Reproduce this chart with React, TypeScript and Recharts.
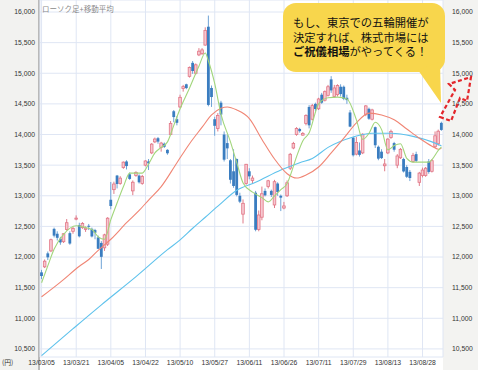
import React from 'react';
import { ComposedChart, Bar, Line, XAxis, YAxis, CartesianGrid } from 'recharts';

// trading days 2013/03/05 - 2013/09/05
const dates = [
  '13/03/05', '13/03/06', '13/03/07', '13/03/08', '13/03/11', '13/03/12', '13/03/13', '13/03/14', '13/03/15', '13/03/18',
  '13/03/19', '13/03/21', '13/03/22', '13/03/25', '13/03/26', '13/03/27', '13/03/28', '13/03/29', '13/04/01', '13/04/02',
  '13/04/03', '13/04/04', '13/04/05', '13/04/08', '13/04/09', '13/04/10', '13/04/11', '13/04/12', '13/04/15', '13/04/16',
  '13/04/17', '13/04/18', '13/04/19', '13/04/22', '13/04/23', '13/04/24', '13/04/25', '13/04/26', '13/04/30', '13/05/01',
  '13/05/02', '13/05/07', '13/05/08', '13/05/09', '13/05/10', '13/05/13', '13/05/14', '13/05/15', '13/05/16', '13/05/17',
  '13/05/20', '13/05/21', '13/05/22', '13/05/23', '13/05/24', '13/05/27', '13/05/28', '13/05/29', '13/05/30', '13/05/31',
  '13/06/03', '13/06/04', '13/06/05', '13/06/06', '13/06/07', '13/06/10', '13/06/11', '13/06/12', '13/06/13', '13/06/14',
  '13/06/17', '13/06/18', '13/06/19', '13/06/20', '13/06/21', '13/06/24', '13/06/25', '13/06/26', '13/06/27', '13/06/28',
  '13/07/01', '13/07/02', '13/07/03', '13/07/04', '13/07/05', '13/07/08', '13/07/09', '13/07/10', '13/07/11', '13/07/12',
  '13/07/16', '13/07/17', '13/07/18', '13/07/19', '13/07/22', '13/07/23', '13/07/24', '13/07/25', '13/07/26', '13/07/29',
  '13/07/30', '13/07/31', '13/08/01', '13/08/02', '13/08/05', '13/08/06', '13/08/07', '13/08/08', '13/08/09', '13/08/12',
  '13/08/13', '13/08/14', '13/08/15', '13/08/16', '13/08/19', '13/08/20', '13/08/21', '13/08/22', '13/08/23', '13/08/26',
  '13/08/27', '13/08/28', '13/08/29', '13/08/30', '13/09/02', '13/09/03', '13/09/04', '13/09/05',
];

const opens = [
  11750, 11840, 12060, 12100, 12460, 12380, 12300, 12250, 12450, 12390,
  12420, 12620, 12520, 12480, 12450, 12510, 12460, 12440, 12320, 12230,
  12150, 12210, 12935, 13100, 13330, 13200, 13460, 13560, 13350, 13080,
  13330, 13330, 13200, 13500, 13560, 13700, 13880, 13940, 13790, 13850,
  13750, 14000, 14380, 14250, 14450, 14750, 14820, 14950, 15170, 15000,
  15300, 15320, 15460, 15760, 14760, 14250, 14100, 14520, 14000, 13860,
  13580, 13400, 13600, 13000, 12700, 13200, 13400, 13250, 13050, 12450,
  12650, 13080, 13150, 13080, 12850, 13200, 13000, 12800, 13000, 13450,
  13780, 14000, 14090, 13990, 14180, 14450, 14250, 14500, 14420, 14650,
  14560, 14640, 14900, 14620, 14650, 14780, 14780, 14600, 14360, 13950,
  13680, 13740, 13700, 14330, 14420, 14250, 14120, 13800, 13720, 13490,
  13700, 13950, 13860, 13500, 13620, 13600, 13470, 13390, 13560, 13680,
  13220, 13330, 13330, 13560, 13400, 13800, 13850, 14190,
];

const highs = [
  11790, 11960, 12090, 12300, 12480, 12420, 12330, 12390, 12620, 12420,
  12490, 12680, 12560, 12570, 12500, 12540, 12480, 12460, 12350, 12260,
  12380, 12650, 13225, 13230, 13340, 13320, 13560, 13580, 13380, 13250,
  13400, 13350, 13340, 13580, 13600, 13860, 13950, 13960, 13880, 13870,
  13760, 14220, 14400, 14300, 14650, 14810, 14830, 15110, 15200, 15160,
  15410, 15410, 15750, 15942, 14800, 14290, 14350, 14550, 14050, 14000,
  13600, 13760, 13610, 13050, 12940, 13520, 13450, 13330, 13080, 12760,
  13150, 13120, 13260, 13100, 13260, 13220, 13020, 12900, 13250, 13700,
  13880, 14120, 14110, 14040, 14330, 14480, 14500, 14520, 14600, 14680,
  14720, 14810, 14953, 14810, 14820, 14820, 14800, 14650, 14400, 13960,
  13960, 13870, 14020, 14480, 14440, 14420, 14130, 13820, 13760, 13600,
  13940, 14080, 13880, 13680, 13780, 13620, 13500, 13420, 13700, 13720,
  13390, 13460, 13470, 13600, 13600, 14050, 14080, 14210,
];

const lows = [
  11640, 11820, 11950, 12080, 12320, 12270, 12200, 12230, 12430, 12200,
  12380, 12600, 12320, 12460, 12410, 12440, 12320, 12290, 12130, 11805,
  12100, 12180, 12780, 13030, 13120, 13180, 13440, 13430, 13260, 13010,
  13310, 13200, 13180, 13480, 13420, 13680, 13860, 13850, 13720, 13780,
  13670, 13990, 14200, 14150, 14430, 14700, 14740, 14930, 14990, 14980,
  15280, 15300, 15450, 14460, 14450, 13980, 14050, 14150, 13560, 13600,
  13200, 13130, 12990, 12880, 12548, 13180, 13270, 13200, 12420, 12420,
  12600, 12990, 13120, 12980, 12800, 13000, 12750, 12780, 12980, 13420,
  13760, 13980, 14030, 13980, 14150, 14100, 14230, 14380, 14400, 14500,
  14540, 14620, 14680, 14600, 14620, 14620, 14560, 14500, 14120, 13640,
  13660, 13640, 13680, 14300, 14240, 14230, 13780, 13580, 13600, 13400,
  13680, 13930, 13720, 13450, 13600, 13380, 13290, 13240, 13540, 13550,
  13160, 13300, 13310, 13360, 13380, 13780, 13820, 14060,
];

const closes = [
  11690, 11932, 11995, 12283, 12349, 12314, 12239, 12381, 12560, 12220,
  12468, 12635, 12338, 12546, 12471, 12494, 12336, 12397, 12135, 12003,
  12362, 12634, 12833, 13192, 13192, 13288, 13549, 13485, 13275, 13221,
  13382, 13220, 13316, 13568, 13529, 13843, 13926, 13884, 13860, 13799,
  13694, 14180, 14285, 14191, 14607, 14782, 14758, 15096, 15037, 15138,
  15360, 15381, 15700, 14483, 14612, 14142, 14311, 14326, 13589, 13774,
  13261, 13160, 13014, 12904, 12877, 13514, 13317, 13289, 12445, 12686,
  13033, 13007, 13245, 13014, 13230, 13062, 12969, 12834, 13213, 13677,
  13852, 14098, 14055, 14018, 14309, 14150, 14472, 14416, 14580, 14520,
  14700, 14780, 14720, 14760, 14800, 14660, 14580, 14562, 14129, 13661,
  13869, 13668, 14005, 14467, 14258, 14401, 13825, 13606, 13615, 13519,
  13925, 14050, 13752, 13650, 13758, 13397, 13310, 13290, 13660, 13570,
  13370, 13420, 13450, 13389, 13573, 13979, 14054, 14075,
];

// moving averages: [day index, value]
const maShort = [
  [0, 11580], [2, 11860], [4, 12130], [7, 12370], [11, 12510], [14, 12480], [16, 12450], [18, 12330],
  [20, 12290], [22, 12610], [24, 12885], [26, 13150], [28, 13370], [30, 13370], [32, 13370], [34, 13520],
  [36, 13700], [38, 13790], [40, 13880], [42, 14150], [44, 14420], [47, 14760], [50, 15120], [52, 15330],
  [53, 15200], [55, 14830], [57, 14330], [60, 13880], [62, 13540], [64, 13210], [67, 13060], [70, 12970],
  [72, 12900], [74, 13000], [76, 13100], [78, 13200], [79, 13330], [81, 13640], [83, 13900], [85, 14030],
  [88, 14500], [91, 14600], [94, 14610], [97, 14580], [100, 14240], [102, 13920], [104, 14020], [106, 14200],
  [108, 14080], [110, 13750], [112, 13820], [114, 13850], [116, 13610], [118, 13550], [120, 13550], [123, 13550],
  [124, 13590], [126, 13740], [127, 13800],
];

const maMid = [
  [0, 11350], [6, 11590], [12, 11850], [15, 11960], [18, 12110], [22, 12290], [27, 12560], [31, 12760],
  [34, 12930], [38, 13150], [43, 13540], [47, 13850], [51, 14120], [54, 14320], [57, 14430], [59, 14450],
  [62, 14400], [66, 14260], [70, 13920], [74, 13600], [78, 13360], [81, 13290], [84, 13340], [88, 13470],
  [92, 13700], [96, 13940], [100, 14190], [104, 14350], [108, 14320], [112, 14240], [116, 14090], [120, 13940],
  [124, 13810], [126, 13760], [127, 13775],
];

const maLong = [
  [0, 10390], [10, 10830], [19, 11220], [30, 11680], [40, 12120], [44, 12280], [48, 12470], [52, 12650],
  [56, 12830], [62, 13090], [68, 13220], [76, 13420], [82, 13540], [86, 13610], [91, 13790], [99, 13960],
  [105, 14020], [111, 14020], [118, 13970], [124, 13880], [127, 13815],
];

const xTicks = ['13/03/05', '13/03/21', '13/04/05', '13/04/22', '13/05/10', '13/05/27', '13/06/11', '13/06/26', '13/07/11', '13/07/29', '13/08/13', '13/08/28'];
const yTicks = [10500, 11000, 11500, 12000, 12500, 13000, 13500, 14000, 14500, 15000, 15500, 16000];

const pick = (list: number[][], i: number) => {
  const hit = list.find((p) => p[0] === i);
  return hit ? hit[1] : null;
};

const rows = dates.map((date, i) => ({
  date,
  range: [lows[i], highs[i]],
  open: opens[i],
  close: closes[i],
  maShort: pick(maShort, i),
  maMid: pick(maMid, i),
  maLong: pick(maLong, i),
}));

const numFont = '"Liberation Sans", Arial, sans-serif';
const jpFont = '"Noto Sans CJK JP", sans-serif';

function Candle(props: any) {
  const { x, y, width, height, payload } = props;
  if (!payload) return null;
  const [lo, hi] = payload.range;
  const top0 = Math.min(y, y + height);
  const h0 = Math.abs(height);
  const k = h0 / (hi - lo);
  const cx = x + width / 2;
  const yO = top0 + (hi - payload.open) * k;
  const yC = top0 + (hi - payload.close) * k;
  const up = payload.close >= payload.open;
  const bTop = Math.min(yO, yC);
  const bH = Math.max(Math.abs(yC - yO), 1);
  return (
    <g>
      <line x1={cx} x2={cx} y1={top0} y2={top0 + h0} stroke={up ? '#e07a88' : '#6fa3d6'} strokeWidth={1} />
      {up ? (
        <rect x={cx - 1.3} y={bTop} width={2.6} height={bH} fill="#f6c8d0" stroke="#e27585" strokeWidth={0.8} />
      ) : (
        <rect x={cx - 1.4} y={bTop} width={2.8} height={bH} fill="#3a7dc0" />
      )}
    </g>
  );
}

function DateTick(props: any) {
  const { x, y, payload } = props;
  return (
    <text x={x} y={y + 8} textAnchor="middle" fontSize={6.8} fill="#333" fontFamily={numFont}>
      {payload.value}
    </text>
  );
}

const fmt = (v: number) => v.toLocaleString('en-US');

export default function App() {
  return (
    <div style={{ position: 'absolute', left: 0, top: 0, width: 478, height: 370, background: '#fff', overflow: 'hidden' }}>
      <div style={{ position: 'absolute', left: 0, top: 0, width: 38, height: 370, background: '#f2f2f0', borderRight: '2px solid #b9b9b9' }} />
      <div style={{ position: 'absolute', left: 443, top: 0, width: 35, height: 370, background: '#f3f3f1' }} />
      <div style={{ position: 'absolute', left: 0, top: 0 }}>
        <ComposedChart width={478} height={370} data={rows} margin={{ top: 0, right: 0, left: 0, bottom: 0 }} barCategoryGap={0}>
          <CartesianGrid stroke="#dfe6f4" strokeWidth={1} yAxisId="left" />
          <XAxis
            dataKey="date"
            ticks={xTicks}
            interval={0}
            tickLine={false}
            axisLine={false}
            tickSize={0}
            tickMargin={0}
            height={13}
            tick={<DateTick />}
          />
          <YAxis
            yAxisId="left"
            orientation="left"
            width={40}
            domain={[10368, 16196]}
            ticks={yTicks}
            allowDataOverflow
            axisLine={false}
            tickLine={false}
            tickSize={0}
            tickMargin={5}
            tickFormatter={fmt}
            tick={{ fontSize: 6.8, fill: '#333', fontFamily: numFont }}
          />
          <YAxis
            yAxisId="right"
            orientation="right"
            width={35}
            domain={[10368, 16196]}
            ticks={yTicks}
            allowDataOverflow
            axisLine={false}
            tickLine={false}
            tickSize={0}
            tickMargin={9}
            tickFormatter={fmt}
            tick={{ fontSize: 6.8, fill: '#333', fontFamily: numFont, textAnchor: 'start' }}
          />
          <Line yAxisId="left" dataKey="maLong" type="monotone" connectNulls dot={false} stroke="#5ec2ec" strokeWidth={1.1} isAnimationActive={false} />
          <Line yAxisId="left" dataKey="maMid" type="monotone" connectNulls dot={false} stroke="#f08574" strokeWidth={1.1} isAnimationActive={false} />
          <Line yAxisId="left" dataKey="maShort" type="monotone" connectNulls dot={false} stroke="#a2d67c" strokeWidth={1.1} isAnimationActive={false} />
          <Bar yAxisId="left" dataKey="range" barSize={3} shape={<Candle />} isAnimationActive={false} />
        </ComposedChart>
      </div>

      <div style={{ position: 'absolute', left: 42, top: 3, fontSize: 7.5, color: '#8a8a8a', fontFamily: jpFont, whiteSpace: 'nowrap' }}>
        ローソク足+移動平均
      </div>
      <div style={{ position: 'absolute', left: 2, top: 357, fontSize: 6.8, color: '#333', fontFamily: jpFont }}>(円)</div>

      <svg width={478} height={370} style={{ position: 'absolute', left: 0, top: 0 }}>
        <rect x={283} y={3} width={162} height={69} rx={13} fill="#f8d64c" />
        <polygon points="418,70 440,62 441,103" fill="#f8d64c" />
        <g fill="none" stroke="#e3262b" strokeWidth={2.2} strokeDasharray="4 2.5" strokeLinejoin="miter">
          <polygon points="440,117 451,121 460,98 467,101 471,77 449,84 455,90" />
        </g>
      </svg>
      <div style={{ position: 'absolute', left: 293, top: 15, fontSize: 11.3, lineHeight: '14.5px', color: '#111', fontFamily: jpFont, whiteSpace: 'nowrap' }}>
        <div>もし、東京での五輪開催が</div>
        <div>決定すれば、株式市場には</div>
        <div><b>ご祝儀相場</b>がやってくる！</div>
      </div>
    </div>
  );
}
